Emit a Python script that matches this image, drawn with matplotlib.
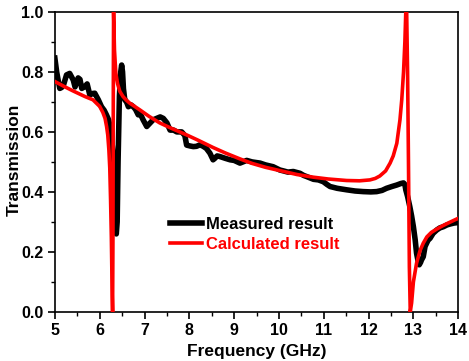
import matplotlib
matplotlib.use("Agg")
import matplotlib.pyplot as plt
from matplotlib.ticker import MultipleLocator

plt.rcParams['font.family'] = ['Liberation Sans', 'DejaVu Sans']
plt.rcParams['font.weight'] = 'bold'

# Measured result
meas_f = [5.00, 5.04, 5.07, 5.11, 5.15, 5.19, 5.26, 5.33, 5.41, 5.45, 5.52, 5.56, 5.60, 5.67,
          5.72, 5.78, 5.84, 5.89, 5.97, 6.04, 6.10, 6.15, 6.20, 6.23, 6.26, 6.29, 6.32, 6.35,
          6.37, 6.39, 6.41, 6.44, 6.47, 6.49, 6.51, 6.53, 6.56, 6.60, 6.64, 6.70, 6.75, 6.80,
          6.86, 6.90, 6.97, 7.05, 7.12, 7.19, 7.27, 7.35, 7.42, 7.50, 7.57, 7.65, 7.72, 7.83,
          7.90, 7.94, 8.02, 8.09, 8.16, 8.24, 8.31, 8.38, 8.46, 8.53, 8.57, 8.62, 8.68, 8.80,
          8.91, 9.00, 9.13, 9.28, 9.40, 9.58, 9.70, 9.87, 10.02, 10.10, 10.20, 10.32, 10.47,
          10.55, 10.62, 10.77, 10.88, 10.99, 11.07, 11.14, 11.30, 11.51, 11.70, 11.88, 12.05,
          12.18, 12.30, 12.40, 12.52, 12.63, 12.72, 12.78, 12.81, 12.83, 12.87, 12.92, 12.96,
          13.00, 13.04, 13.07, 13.11, 13.13, 13.16, 13.18, 13.22, 13.26, 13.33, 13.37, 13.44,
          13.52, 13.59, 13.67, 13.75, 13.82, 13.90, 14.00]
meas_t = [0.846, 0.80, 0.775, 0.745, 0.748, 0.755, 0.79, 0.795, 0.773, 0.750, 0.780, 0.775, 0.745, 0.751,
          0.760, 0.723, 0.728, 0.729, 0.707, 0.684, 0.672, 0.657, 0.640, 0.618, 0.590, 0.540, 0.45, 0.33,
          0.26, 0.30, 0.50, 0.72, 0.80, 0.823, 0.80, 0.744, 0.707, 0.700, 0.684, 0.690, 0.684, 0.675,
          0.657, 0.662, 0.640, 0.618, 0.629, 0.640, 0.645, 0.650, 0.645, 0.630, 0.606, 0.606, 0.600, 0.600,
          0.588, 0.556, 0.553, 0.551, 0.552, 0.557, 0.552, 0.545, 0.529, 0.507, 0.512, 0.520, 0.518, 0.512,
          0.507, 0.505, 0.496, 0.505, 0.500, 0.496, 0.490, 0.484, 0.473, 0.470, 0.466, 0.468, 0.462,
          0.455, 0.451, 0.442, 0.440, 0.434, 0.425, 0.418, 0.412, 0.407, 0.403, 0.401, 0.400,
          0.401, 0.405, 0.412, 0.418, 0.423, 0.428, 0.430, 0.425, 0.407, 0.385, 0.351, 0.320,
          0.284, 0.240, 0.196, 0.165, 0.157, 0.165, 0.173, 0.184, 0.218, 0.240, 0.245, 0.262,
          0.273, 0.280, 0.284, 0.290, 0.293, 0.296, 0.298]

# Calculated result
calc_f = [5.00, 5.20, 5.40, 5.67, 5.85, 6.00, 6.07, 6.12, 6.154, 6.18, 6.205, 6.225, 6.243, 6.26,
          6.272, 6.28, 6.288, 6.296, 6.304, 6.31, 6.318, 6.33, 6.36, 6.40, 6.45, 6.52, 6.60, 6.67,
          6.80, 6.90, 7.10, 7.34, 7.60, 7.94, 8.20, 8.53, 8.80, 9.13, 9.40, 9.70, 10.02, 10.40,
          10.77, 11.10, 11.51, 11.80, 12.03, 12.15, 12.25, 12.38, 12.48, 12.55, 12.63, 12.70,
          12.74, 12.78, 12.81, 12.83, 12.85, 12.87, 12.89, 12.91, 12.93, 12.96, 13.00, 13.07,
          13.15, 13.22, 13.30, 13.40, 13.52, 13.65, 13.80, 14.00]
calc_t = [0.768, 0.752, 0.737, 0.718, 0.707, 0.685, 0.665, 0.645, 0.618, 0.590, 0.540, 0.48, 0.373, 0.25,
          0.13, 0.05, 0.00, 0.25, 0.75, 1.00, 0.95, 0.873, 0.796, 0.760, 0.735, 0.718, 0.705, 0.696,
          0.683, 0.673, 0.652, 0.630, 0.612, 0.590, 0.572, 0.548, 0.530, 0.510, 0.495, 0.482, 0.471, 0.458,
          0.449, 0.443, 0.438, 0.437, 0.440, 0.445, 0.453, 0.470, 0.496, 0.520, 0.562, 0.640,
          0.707, 0.800, 0.900, 1.00, 1.00, 0.80, 0.50, 0.15, 0.00, 0.03, 0.10, 0.162,
          0.205, 0.229, 0.250, 0.265, 0.276, 0.287, 0.298, 0.312]

fig = plt.figure(figsize=(4.69, 3.61), dpi=100)
ax = fig.add_axes([0.117, 0.136, 0.860, 0.831])

ax.plot(meas_f, meas_t, color='black', lw=4.0, label='Measured result', solid_joinstyle='round', zorder=2)
ax.plot(calc_f, calc_t, color='#ff0000', lw=2.6, label='Calculated result', zorder=3)

ax.set_xlim(5, 14)
ax.set_ylim(0, 1.0)
ax.xaxis.set_major_locator(MultipleLocator(1))
ax.xaxis.set_minor_locator(MultipleLocator(0.5))
ax.yaxis.set_major_locator(MultipleLocator(0.2))
ax.yaxis.set_minor_locator(MultipleLocator(0.1))
ax.yaxis.set_major_formatter(matplotlib.ticker.FormatStrFormatter('%.1f'))
ax.tick_params(which='major', direction='out', length=5, width=1.2, labelsize=11.5, pad=3)
ax.tick_params(which='minor', direction='out', length=3, width=1.0)
ax.tick_params(top=False, right=False)
for lbl in ax.get_xticklabels() + ax.get_yticklabels():
    lbl.set_fontweight('bold')
for s in ax.spines.values():
    s.set_linewidth(1.2)

ax.set_xlabel('Frequency (GHz)', fontsize=12.5, fontweight='bold', labelpad=4)
fig.text(14 / 469, 1 - 160 / 361, 'Transmission', rotation=90, ha='center', va='center',
         fontsize=12.5, fontweight='bold')

leg = ax.legend(loc='upper left', bbox_to_anchor=(0.27, 0.34), frameon=False,
                fontsize=12, handlelength=1.9, handletextpad=0.25, labelspacing=0.3,
                borderaxespad=0)
for t, c in zip(leg.get_texts(), ['black', '#ff0000']):
    t.set_color(c)
    t.set_fontweight('bold')

fig.savefig('out.png', dpi=100)
